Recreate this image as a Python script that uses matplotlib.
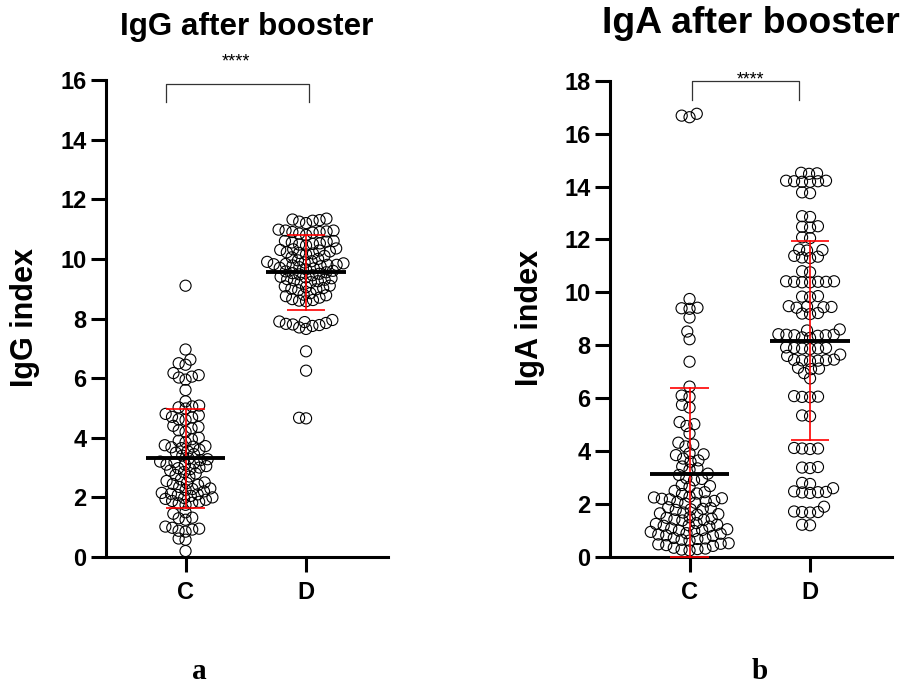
import numpy as np
import matplotlib
matplotlib.use("Agg")
import matplotlib.pyplot as plt

plt.rcParams['font.family'] = ['Liberation Sans', 'DejaVu Sans']

# data
groups = ['C', 'D']

igg_c = [9.1,
         6.96,
         6.62, 6.45, 6.5,
         6.17, 6.05, 6.02, 6.1, 5.95,
         5.6, 5.22,
         5.08, 5.05, 5.02, 4.98,
         4.8, 4.75, 4.7, 4.68, 4.62, 4.6,
         4.4, 4.36, 4.32, 4.25, 4.2,
         4.0, 3.95, 3.9, 3.85,
         3.75, 3.72, 3.7, 3.68, 3.65, 3.6,
         3.55, 3.5, 3.45, 3.4,
         3.3, 3.28, 3.25, 3.2, 3.18, 3.15, 3.1, 3.1,
         3.05, 3.0, 2.98, 2.95, 2.9,
         2.85, 2.8, 2.75, 2.7,
         2.6, 2.55, 2.5, 2.48, 2.45, 2.42,
         2.35, 2.3, 2.28, 2.25, 2.2,
         2.15, 2.12, 2.1, 2.08, 2.05, 2.0, 1.98, 1.95, 1.92,
         1.88, 1.85, 1.82, 1.8, 1.75,
         1.5, 1.45,
         1.32, 1.3, 1.25,
         1.02, 0.98, 0.95, 0.92,
         0.88, 0.85,
         0.62, 0.58,
         0.2]

igg_d = [11.35, 11.32, 11.3, 11.28, 11.25, 11.2,
         10.98, 10.95, 10.92, 10.9, 10.88, 10.95, 10.9, 10.85, 10.8,
         10.6, 10.58, 10.55, 10.52, 10.5, 10.48, 10.45, 10.6,
         10.35, 10.32, 10.3, 10.28, 10.25, 10.22, 10.2, 10.18, 10.15, 10.1,
         10.05, 10.0, 9.95, 9.92, 9.9,
         9.88, 9.85, 9.83, 9.82, 9.8, 9.8, 9.78, 9.75, 9.72, 9.7, 9.68, 9.65,
         9.6, 9.58, 9.55, 9.52, 9.5, 9.48, 9.45,
         9.4, 9.38, 9.35, 9.32, 9.3, 9.28, 9.25, 9.22, 9.2,
         9.1, 9.08, 9.05, 9.02, 9.0, 8.98, 8.95,
         8.85, 8.8, 8.78, 8.75, 8.7, 8.65,
         8.62, 8.6, 8.58,
         7.95, 7.9, 7.88, 7.85, 7.82, 7.8, 7.78, 7.75, 7.7, 7.65,
         6.9, 6.25, 4.67, 4.65]

iga_c = [16.75, 16.68, 16.62,
         9.75, 9.42, 9.4, 9.38, 9.05,
         8.52, 8.23, 7.38,
         6.44, 6.1, 6.05, 5.75, 5.65,
         5.1, 5.02, 4.95, 4.67,
         4.32, 4.25, 4.18,
         3.92, 3.88, 3.85,
         3.72, 3.65, 3.6,
         3.42, 3.35, 3.3,
         3.15, 3.1,
         2.98, 2.95, 2.9,
         2.72, 2.68, 2.65,
         2.5, 2.45, 2.4, 2.38,
         2.28, 2.25, 2.22, 2.2, 2.18,
         2.12, 2.1, 2.08, 2.05, 2.02,
         1.88, 1.85, 1.82, 1.8, 1.78,
         1.68, 1.65, 1.62, 1.6,
         1.5, 1.48, 1.45, 1.42, 1.4, 1.38,
         1.28, 1.25, 1.22, 1.2, 1.18, 1.15,
         1.08, 1.05, 1.02, 1.0, 0.98, 0.95,
         0.9, 0.88, 0.85, 0.82, 0.8,
         0.72, 0.7, 0.68, 0.65, 0.62,
         0.52, 0.5, 0.48, 0.45, 0.42,
         0.35, 0.32, 0.3, 0.28, 0.25]

iga_d = [14.52, 14.5, 14.48,
         14.22, 14.2, 14.18, 14.22, 14.2, 14.18,
         13.78, 13.75,
         12.88, 12.85,
         12.5, 12.48, 12.45,
         12.08, 12.05,
         11.62, 11.6, 11.58,
         11.38, 11.35, 11.32, 11.3,
         10.8, 10.76,
         10.42, 10.4, 10.4, 10.38, 10.42, 10.4, 10.38,
         9.86, 9.84, 9.82,
         9.48, 9.46, 9.45, 9.44, 9.42,
         9.22, 9.2, 9.18,
         8.6, 8.56,
         8.42, 8.4, 8.38, 8.36, 8.4, 8.38,
         8.3, 8.28,
         7.92, 7.9, 7.88, 7.9, 7.86, 7.88,
         7.65, 7.6,
         7.46, 7.44, 7.42, 7.45, 7.43, 7.4,
         7.15, 7.12, 7.1,
         6.95, 6.75,
         6.08, 6.06, 6.05, 6.04,
         5.35, 5.32,
         4.12, 4.1, 4.1, 4.08,
         3.4, 3.38, 3.36,
         2.8, 2.76, 2.6,
         2.48, 2.46, 2.45, 2.44, 2.42,
         1.9,
         1.72, 1.7, 1.7, 1.68,
         1.22, 1.2]

igg_mean = [3.31, 9.55]
igg_sd = [1.65, 1.25]
iga_mean = [3.15, 8.18]
iga_sd = [3.23, 3.77]


def swarm(vals, ax, xc, spacing):
    # simple beeswarm in pixel space
    pts = ax.transData.transform(np.column_stack([np.full(len(vals), xc), vals]))
    ys = pts[:, 1]
    px_per_x = ax.transData.transform((1, 0))[0] - ax.transData.transform((0, 0))[0]
    xs = np.zeros(len(vals))
    placed = []
    for i in np.argsort(ys):
        y = ys[i]
        iv = []
        for px, py in placed:
            dy = abs(py - y)
            if dy < spacing:
                dx = np.sqrt(spacing ** 2 - dy ** 2)
                iv.append((px - dx, px + dx))
        cands = [0.0] + [a for a, b in iv] + [b for a, b in iv]
        cands.sort(key=abs)
        for c in cands:
            if all(not (a + 1e-6 < c < b - 1e-6) for a, b in iv):
                break
        xs[i] = c
        placed.append((c, y))
    return xc + xs / px_per_x


def panel(ax, data, means, sds, ylim, step, spacing):
    ax.set_xlim(-0.66, 1.68)
    ax.set_ylim(0, ylim)
    for k, vals in enumerate(data):
        x = swarm(vals, ax, k, spacing)
        ax.scatter(x, vals, s=64, facecolors='none', edgecolors='black',
                   linewidths=0.8, zorder=2, clip_on=False)
        lo = max(means[k] - sds[k], 0)
        hi = means[k] + sds[k]
        ax.plot([k, k], [lo, hi], color='red', lw=1.2, zorder=3, clip_on=False)
        ax.hlines([lo, hi], k - 0.16, k + 0.16, color='red', lw=1.2, zorder=3, clip_on=False)
        ax.hlines(means[k], k - 0.33, k + 0.33, color='black', lw=2.8, zorder=4)
    ax.set_xticks([0, 1])
    ax.set_xticklabels(groups)
    ax.set_yticks(np.arange(0, ylim + 0.1, step))
    for s in ['top', 'right']:
        ax.spines[s].set_visible(False)
    for s in ['left', 'bottom']:
        ax.spines[s].set_linewidth(2.2)
    ax.tick_params(axis='both', width=2.2, length=11, labelsize=17)
    ax.tick_params(axis='y', pad=3)
    ax.tick_params(axis='x', pad=6)
    for t in ax.get_xticklabels() + ax.get_yticklabels():
        t.set_fontweight('bold')


fig = plt.figure(figsize=(9.04, 6.88), dpi=100)
ax1 = fig.add_axes([106 / 904, 131 / 688, 282 / 904, 477 / 688])
ax2 = fig.add_axes([610 / 904, 131 / 688, 282 / 904, 476.3 / 688])

panel(ax1, [igg_c, igg_d], igg_mean, igg_sd, 16, 2, 7)
panel(ax2, [iga_c, iga_d], iga_mean, iga_sd, 18, 2, 8)

# significance brackets
ax1.plot([-0.165, -0.165, 1.025, 1.025], [15.25, 15.86, 15.86, 15.25],
         color='#333333', lw=0.9, clip_on=False)
ax1.text(0.42, 16.44, '****', ha='center', va='baseline', fontsize=13, clip_on=False)
ax2.plot([0.02, 0.02, 0.908, 0.908], [17.27, 18.0, 18.0, 17.27],
         color='#333333', lw=0.9, clip_on=False)
ax2.text(0.51, 17.87, '****', ha='center', va='baseline', fontsize=12.8, clip_on=False)

# titles
fig.text(247 / 904, 1 - 35 / 688, 'IgG after booster', ha='center', va='baseline',
         fontsize=22.6, fontweight='bold')
fig.text(751 / 904, 1 - 33 / 688, 'IgA after booster', ha='center', va='baseline',
         fontsize=26.9, fontweight='bold')

# axis labels
fig.text(25 / 904, 1 - 318 / 688, 'IgG index', rotation=90, ha='center', va='center',
         fontsize=22, fontweight='bold')
fig.text(530 / 904, 1 - 318 / 688, 'IgA index', rotation=90, ha='center', va='center',
         fontsize=22, fontweight='bold')

# panel letters
fig.text(199.5 / 904, 1 - 679 / 688, 'a', ha='center', va='baseline', fontsize=21,
         fontweight='bold', family='Liberation Serif')
fig.text(759.5 / 904, 1 - 679 / 688, 'b', ha='center', va='baseline', fontsize=21,
         fontweight='bold', family='Liberation Serif')

fig.savefig('out.png', dpi=100)
